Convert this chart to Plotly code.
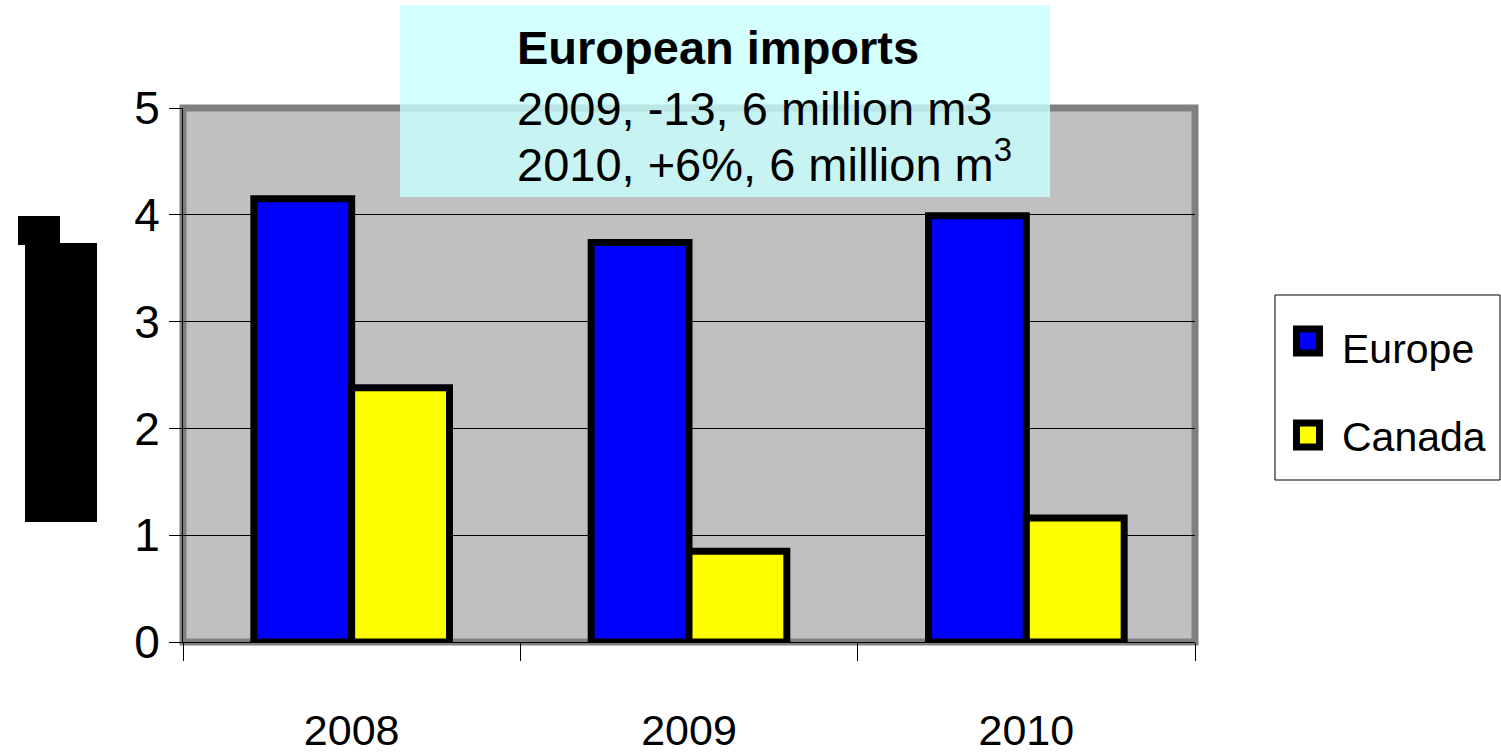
import plotly.graph_objects as go

# Import volumes by year (million m3)
years = ["2008", "2009", "2010"]
series_names = ["Europe", "Canada"]
europe = [4.15, 3.74, 3.99]
canada = [2.38, 0.85, 1.16]

y_ticks = [0, 1, 2, 3, 4, 5]

title_lines = [
    "<b>European imports</b>",
    "2009, -13, 6 million m3",
    "2010, +6%, 6 million m<sup>3</sup>",
]

SANS = "Liberation Sans, Arial, sans-serif"
colors = ["#0000FF", "#FFFF00"]

fig = go.Figure()
for name, vals, col in zip(series_names, [europe, canada], colors):
    fig.add_trace(go.Bar(
        x=years, y=vals, name=name, showlegend=False,
        marker=dict(color=col, line=dict(color="black", width=7)),
    ))


def px_x(px):
    # pixel column -> paper x (plot area spans 183..1195)
    return (px - 183) / 1012


def px_y(py):
    # pixel row -> paper y (plot area spans 108..642)
    return (642 - py) / 534


shapes = [
    # plot-area frame
    dict(type="rect", xref="paper", yref="paper", x0=0, x1=1, y0=0, y1=1,
         line=dict(color="#808080", width=7), layer="between"),
    # blocked-out axis title
    dict(type="rect", xref="paper", yref="paper", x0=px_x(18), x1=px_x(60),
         y0=px_y(245), y1=px_y(216), fillcolor="black", line=dict(width=0)),
    dict(type="rect", xref="paper", yref="paper", x0=px_x(25), x1=px_x(97),
         y0=px_y(522), y1=px_y(243), fillcolor="black", line=dict(width=0)),
    # note box
    dict(type="rect", xref="paper", yref="paper", x0=px_x(400), x1=px_x(1050),
         y0=px_y(197), y1=px_y(5), fillcolor="rgba(200,255,255,0.8)",
         line=dict(width=0), layer="above"),
    # legend frame
    dict(type="rect", xref="paper", yref="paper", x0=px_x(1275), x1=px_x(1500),
         y0=px_y(480), y1=px_y(295), fillcolor="white",
         line=dict(color="black", width=1)),
]

annotations = []
for txt, py in zip(title_lines, [48, 108, 161]):
    annotations.append(dict(
        text=txt, xref="paper", yref="paper", x=px_x(515), y=px_y(py),
        xanchor="left", yanchor="middle", showarrow=False, align="left",
        font=dict(family=SANS, size=47, color="black"),
    ))

# legend entries: swatch + label
for name, col, sy, ty in zip(series_names, colors, [341, 435], [349, 437]):
    shapes.append(dict(
        type="rect", xref="paper", yref="paper",
        x0=px_x(1296.5), x1=px_x(1319.5), y0=px_y(sy + 12), y1=px_y(sy - 12),
        fillcolor=col, line=dict(color="black", width=7),
    ))
    annotations.append(dict(
        text=name, xref="paper", yref="paper", x=px_x(1340), y=px_y(ty),
        xanchor="left", yanchor="middle", showarrow=False,
        font=dict(family=SANS, size=41, color="black"),
    ))

fig.update_layout(
    width=1501, height=754,
    margin=dict(l=183, r=306, t=108, b=112, autoexpand=False),
    paper_bgcolor="white", plot_bgcolor="#C0C0C0",
    barmode="group", bargap=0.42, bargroupgap=0,
    shapes=shapes, annotations=annotations,
    showlegend=False,
    xaxis=dict(
        type="category", tickson="boundaries", ticks="outside", ticklen=18,
        tickcolor="black", tickwidth=1, showline=True, linecolor="black", linewidth=1,
        showgrid=False, ticklabelstandoff=50, automargin=False,
        tickfont=dict(family=SANS, size=43, color="black"),
    ),
    yaxis=dict(
        range=[0, 5], tickvals=y_ticks, ticks="outside", ticklen=13,
        tickcolor="black", showline=True, linecolor="black", linewidth=1,
        showgrid=True, gridcolor="black", gridwidth=1, zeroline=False,
        automargin=False,
        tickfont=dict(family=SANS, size=46, color="black"),
    ),
)

fig.write_html("out.html")
